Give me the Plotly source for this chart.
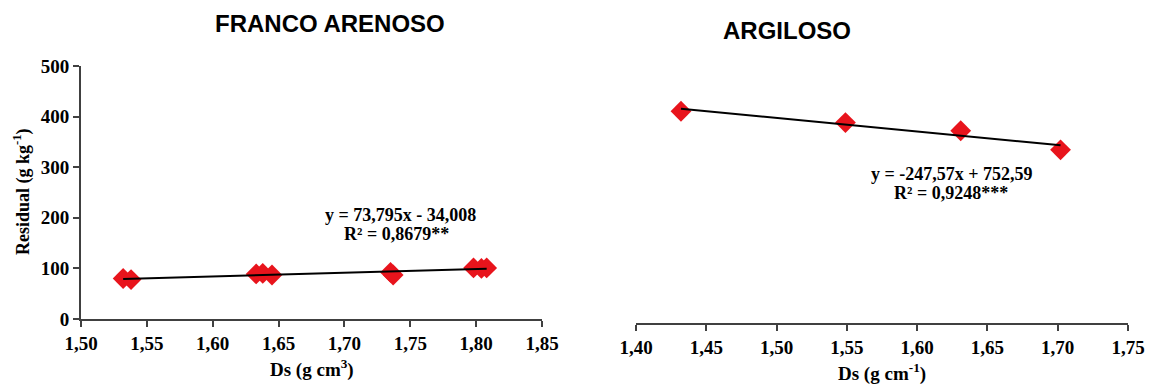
import numpy as np
import plotly.graph_objects as go

# ---- data ----
fa_ds = [1.532, 1.538, 1.633, 1.638, 1.645, 1.735, 1.737, 1.798, 1.804, 1.808]
fa_res = [80, 78, 89, 90, 87, 92, 87, 101, 100, 101]
ar_ds = [1.432, 1.549, 1.631, 1.702]
ar_res = [412, 390, 374, 337]
fa_eq = ["y = 73,795x - 34,008", "R² = 0,8679**"]
ar_eq = ["y = -247,57x + 752,59", "R² = 0,9248***"]
fa_ticks = [1.50, 1.55, 1.60, 1.65, 1.70, 1.75, 1.80, 1.85]
ar_ticks = [1.40, 1.45, 1.50, 1.55, 1.60, 1.65, 1.70, 1.75]
y_ticks = [0, 100, 200, 300, 400, 500]

W, H = 1152, 385
def px(x): return x / W
def py(y): return 1 - y / H

SERIF = "Liberation Serif"
SANS = "Liberation Sans"
RED = "#e8141c"
AXC = "#404040"

def fitline(xs, ys):
    a, b = np.polyfit(xs, ys, 1)
    xx = np.array([min(xs), max(xs)])
    return xx, a * xx + b

def dec_labels(vals):
    return ["<b>" + f"{v:.2f}".replace(".", ",") + "</b>" for v in vals]

fig = go.Figure()
lx, ly = fitline(fa_ds, fa_res)
fig.add_trace(go.Scatter(x=fa_ds, y=fa_res, mode="markers",
                         marker=dict(symbol="diamond", size=16, color=RED),
                         xaxis="x", yaxis="y", showlegend=False))
fig.add_trace(go.Scatter(x=lx, y=ly, mode="lines", line=dict(color="black", width=2),
                         xaxis="x", yaxis="y", showlegend=False))
rx, ry = fitline(ar_ds, ar_res)
fig.add_trace(go.Scatter(x=ar_ds, y=ar_res, mode="markers",
                         marker=dict(symbol="diamond", size=16, color=RED),
                         xaxis="x2", yaxis="y2", showlegend=False))
fig.add_trace(go.Scatter(x=rx, y=ry, mode="lines", line=dict(color="black", width=2),
                         xaxis="x2", yaxis="y2", showlegend=False))

tickfont = dict(family=SERIF, size=19, color="black")
common = dict(showline=True, linecolor=AXC, linewidth=2, ticks="outside", ticklen=6,
              tickcolor=AXC, tickwidth=2, showgrid=False, zeroline=False,
              tickfont=tickfont, automargin=False)

fig.update_layout(
    width=W, height=H, margin=dict(l=0, r=0, t=0, b=0),
    paper_bgcolor="white", plot_bgcolor="white",
    xaxis=dict(domain=[px(81), px(542)], range=[1.50, 1.85], tickmode="array",
               tickvals=fa_ticks, ticktext=dec_labels(fa_ticks), anchor="y", **common),
    yaxis=dict(domain=[py(319), py(66)], range=[0, 500], tickmode="array",
               tickvals=y_ticks, ticktext=[f"<b>{v}</b>" for v in y_ticks],
               anchor="x", **common),
    xaxis2=dict(domain=[px(636), px(1128)], range=[1.40, 1.75], tickmode="array",
                tickvals=ar_ticks, ticktext=dec_labels(ar_ticks), anchor="y2", **common),
    yaxis2=dict(domain=[py(323), py(66)], range=[0, 500], visible=False, anchor="x2",
                automargin=False),
)

def ann(text, x, y, font, **kw):
    fig.add_annotation(text=text, x=px(x), y=py(y), xref="paper", yref="paper",
                       showarrow=False, font=font, xanchor="center", yanchor="middle", **kw)

titlefont = dict(family=SANS, size=24, color="black")
ann("<b>FRANCO ARENOSO</b>", 330, 23, titlefont)
ann("<b>ARGILOSO</b>", 787, 30, titlefont)

labfont = dict(family=SERIF, size=19, color="black")
ann("<b>Ds (g cm<sup>3</sup>)</b>", 312, 368, labfont)
ann("<b>Ds (g cm<sup>-1</sup>)</b>", 882, 372, labfont)
ann("<b>Residual (g kg<sup>-1</sup>)</b>", 22, 192,
    dict(family=SERIF, size=18, color="black"), textangle=-90)

eqfont = dict(family=SERIF, size=18, color="black")
ann("<b>" + fa_eq[0] + "</b>", 400, 215, eqfont)
ann("<b>" + fa_eq[1] + "</b>", 396, 234, eqfont)
ann("<b>" + ar_eq[0] + "</b>", 952, 174, eqfont)
ann("<b>" + ar_eq[1] + "</b>", 951, 193, eqfont)

fig.write_html("out.html")
